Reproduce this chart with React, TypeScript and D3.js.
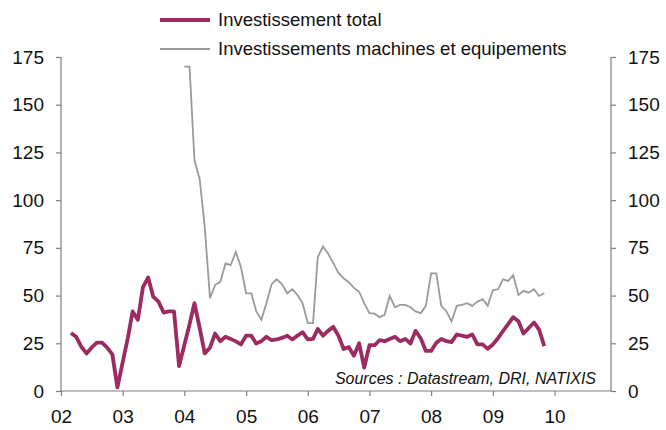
import { useEffect, useRef } from 'react';
import * as d3 from 'd3';

// monthly series, first value = start month
const totalStart = new Date(2002, 2, 1);
const totalValues = [
  30.4, 28.4, 23.2, 19.7, 22.7, 25.3, 25.3, 22.7, 19.2, 1.9,
  15, 28, 41.7, 37.3, 54.3, 59.5, 49.4, 46.8, 41.1, 41.7, 41.7, 13.1,
  24, 35, 46, 33, 19.7, 22.7, 30.1, 26.1, 28.4, 27.3, 26, 24.4,
  29, 29, 24.9, 26.1, 28.4, 26.6, 27, 27.8, 29, 27, 29, 30.8,
  27, 27.3, 32.5, 29, 31.5, 33.6, 29, 22, 23, 18.5, 25, 12.3,
  24, 24, 26.6, 26.1, 27.3, 28.4, 26.1, 27.3, 24.9, 31.5, 27.5, 21,
  21, 25.3, 27.3, 26.1, 25.6, 29.6, 29, 28.4, 29.6, 24.4, 24.4, 22.1,
  24.4, 27.8, 31.3, 35, 38.7, 36.5, 30.1, 33, 35.9, 32.2, 23.5,
];

const machinesStart = new Date(2004, 0, 1);
const machinesValues = [
  170, 170, 121, 111, 86, 48.6, 55.5, 57.2, 66.8, 65.9, 72.8, 65,
  51.2, 51.2, 42, 37.3, 46, 56, 58.5, 56, 51.2, 53.3, 50.3, 46,
  35.6, 35.6, 70.2, 75.7, 72, 67, 62, 59, 57, 54, 52, 46,
  40.8, 40.5, 38.7, 39.9, 49.8, 43.9, 45.1, 45.1, 43.9, 41.7, 40.8, 44.6,
  61.6, 61.6, 44.6, 41.7, 36.5, 44.6, 45.1, 46, 44.6, 46.8, 48.1, 44.6,
  52.9, 53.3, 58.5, 57.7, 60.7, 50.3, 52.5, 51.5, 53.3, 49.8, 51.2,
];

const yTicks = [0, 25, 50, 75, 100, 125, 150, 175];
const seriesNames = ['Investissement total', 'Investissements machines et equipements'];
const sourceText = 'Sources : Datastream, DRI, NATIXIS';

const toPoints = (start: Date, values: number[]) =>
  values.map((v, i) => ({ date: d3.timeMonth.offset(start, i), value: v }));

export default function App() {
  const svgRef = useRef<SVGSVGElement>(null);

  useEffect(() => {
    if (!svgRef.current) return;
    const W = 666;
    const H = 430;
    const left = 61;
    const right = 611;
    const top = 57;
    const bottom = 391;
    const font = '"Liberation Sans", Arial, sans-serif';

    const svg = d3.select(svgRef.current);
    svg.selectAll('*').remove();
    svg.attr('width', W).attr('height', H).attr('viewBox', `0 0 ${W} ${H}`);

    const x = d3
      .scaleTime()
      .domain([new Date(2002, 0, 1), new Date(2010, 11, 1)])
      .range([left, right]);
    const y = d3.scaleLinear().domain([0, 175]).range([bottom, top]);

    const axisColor = '#7f7f7f';

    // left axis
    const gl = svg.append('g').attr('transform', `translate(${left},0)`);
    gl.call(d3.axisLeft(y).tickValues(yTicks).tickSize(5).tickPadding(12));
    // right axis
    const gr = svg.append('g').attr('transform', `translate(${right},0)`);
    gr.call(d3.axisRight(y).tickValues(yTicks).tickSize(5).tickPadding(12));
    // bottom axis
    const years = d3.range(2002, 2011).map((yr) => new Date(yr, 0, 1));
    const gb = svg.append('g').attr('transform', `translate(0,${bottom})`);
    gb.call(
      d3
        .axisBottom(x)
        .tickValues(years)
        .tickSize(5)
        .tickPadding(10)
        .tickFormat((d) => d3.timeFormat('%y')(d as Date))
    );

    [gl, gr, gb].forEach((g) => {
      g.select('.domain').attr('stroke', axisColor).attr('stroke-width', 1.2).attr('d', null);
      g.selectAll('.tick line').attr('stroke', axisColor).attr('stroke-width', 1.2);
      g.selectAll('.tick text')
        .attr('font-family', font)
        .attr('font-size', 19)
        .attr('fill', '#111');
    });
    // redraw domains without end ticks
    gl.select('.domain').attr('d', `M0,${top}V${bottom}`);
    gr.select('.domain').attr('d', `M0,${top}V${bottom}`);
    gb.select('.domain').attr('d', `M${left},0H${right}`);
    gb.selectAll('.tick text').attr('dy', '0.9em');

    const line = d3
      .line<{ date: Date; value: number }>()
      .x((d) => x(d.date))
      .y((d) => y(d.value));

    svg
      .append('path')
      .datum(toPoints(machinesStart, machinesValues))
      .attr('fill', 'none')
      .attr('stroke', '#9a9a9a')
      .attr('stroke-width', 1.8)
      .attr('d', line);

    svg
      .append('path')
      .datum(toPoints(totalStart, totalValues))
      .attr('fill', 'none')
      .attr('stroke', '#9b2b61')
      .attr('stroke-width', 3.8)
      .attr('stroke-linejoin', 'round')
      .attr('d', line);

    // legend
    const legend = [
      { name: seriesNames[0], color: '#9b2b61', width: 4, y: 20 },
      { name: seriesNames[1], color: '#9a9a9a', width: 1.8, y: 49 },
    ];
    legend.forEach((l) => {
      svg
        .append('line')
        .attr('x1', 160)
        .attr('x2', 210)
        .attr('y1', l.y)
        .attr('y2', l.y)
        .attr('stroke', l.color)
        .attr('stroke-width', l.width);
      svg
        .append('text')
        .attr('x', 218)
        .attr('y', l.y)
        .attr('dy', '0.35em')
        .attr('font-family', font)
        .attr('font-size', 18.5)
        .attr('fill', '#111')
        .text(l.name);
    });

    svg
      .append('text')
      .attr('x', 596)
      .attr('y', 384)
      .attr('text-anchor', 'end')
      .attr('font-family', font)
      .attr('font-size', 16)
      .attr('font-style', 'italic')
      .attr('fill', '#111')
      .text(sourceText);
  }, []);

  return (
    <svg
      ref={svgRef}
      style={{ position: 'absolute', left: 0, top: 0, display: 'block', background: '#fff' }}
    />
  );
}
